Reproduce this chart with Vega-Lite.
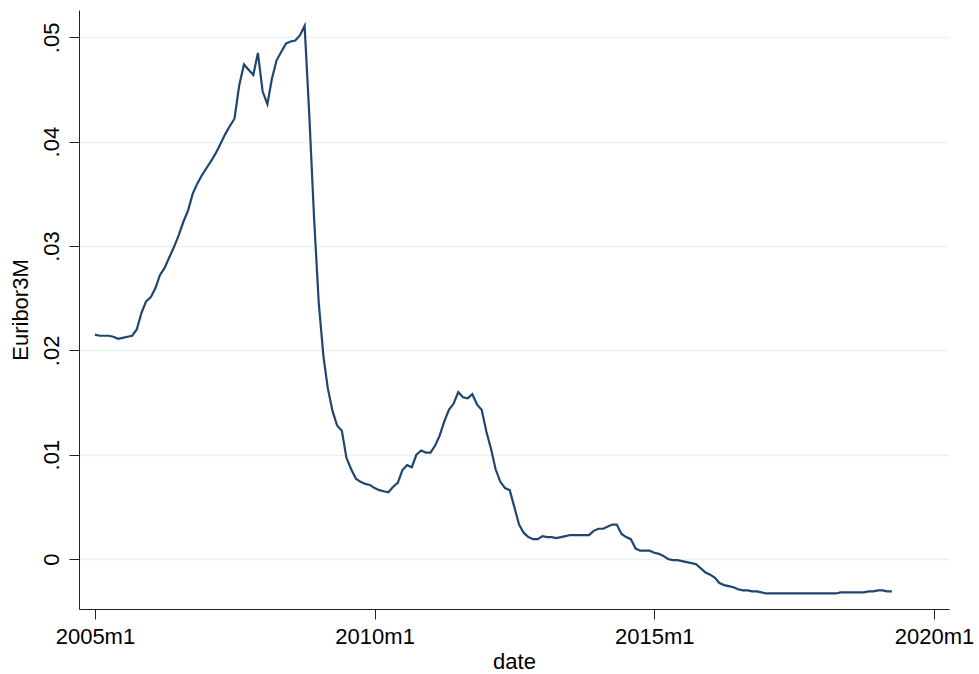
{
  "$schema": "https://vega.github.io/schema/vega-lite/v6.json",
  "width": 870,
  "height": 599,
  "autosize": {"type": "none"},
  "padding": {"left": 79, "top": 10, "right": 30, "bottom": 65},
  "background": "white",
  "config": {
    "view": {"stroke": null},
    "font": "Liberation Sans",
    "axis": {
      "domainColor": "#222222",
      "domainWidth": 1,
      "tickColor": "#222222",
      "tickWidth": 1,
      "tickSize": 10,
      "labelFont": "Liberation Sans",
      "labelFontSize": 22,
      "labelColor": "#000000",
      "titleFont": "Liberation Sans",
      "titleFontSize": 22,
      "titleFontWeight": "normal",
      "titleColor": "#000000",
      "labelOverlap": false,
      "labelFlush": false,
      "labelBound": false
    }
  },
  "data": {
    "values": [
      {"date": "2005-01-01", "euribor3m": 0.0215},
      {"date": "2005-02-01", "euribor3m": 0.0214},
      {"date": "2005-03-01", "euribor3m": 0.0214},
      {"date": "2005-04-01", "euribor3m": 0.0214},
      {"date": "2005-05-01", "euribor3m": 0.0213},
      {"date": "2005-06-01", "euribor3m": 0.0211},
      {"date": "2005-07-01", "euribor3m": 0.0212},
      {"date": "2005-08-01", "euribor3m": 0.0213},
      {"date": "2005-09-01", "euribor3m": 0.0214},
      {"date": "2005-10-01", "euribor3m": 0.0220},
      {"date": "2005-11-01", "euribor3m": 0.0236},
      {"date": "2005-12-01", "euribor3m": 0.0247},
      {"date": "2006-01-01", "euribor3m": 0.0251},
      {"date": "2006-02-01", "euribor3m": 0.0260},
      {"date": "2006-03-01", "euribor3m": 0.0272},
      {"date": "2006-04-01", "euribor3m": 0.0279},
      {"date": "2006-05-01", "euribor3m": 0.0289},
      {"date": "2006-06-01", "euribor3m": 0.0299},
      {"date": "2006-07-01", "euribor3m": 0.0310},
      {"date": "2006-08-01", "euribor3m": 0.0323},
      {"date": "2006-09-01", "euribor3m": 0.0334},
      {"date": "2006-10-01", "euribor3m": 0.0350},
      {"date": "2006-11-01", "euribor3m": 0.0360},
      {"date": "2006-12-01", "euribor3m": 0.0368},
      {"date": "2007-01-01", "euribor3m": 0.0375},
      {"date": "2007-02-01", "euribor3m": 0.0382},
      {"date": "2007-03-01", "euribor3m": 0.0389},
      {"date": "2007-04-01", "euribor3m": 0.0398},
      {"date": "2007-05-01", "euribor3m": 0.0407},
      {"date": "2007-06-01", "euribor3m": 0.0415},
      {"date": "2007-07-01", "euribor3m": 0.0422},
      {"date": "2007-08-01", "euribor3m": 0.0454},
      {"date": "2007-09-01", "euribor3m": 0.0474},
      {"date": "2007-10-01", "euribor3m": 0.0469},
      {"date": "2007-11-01", "euribor3m": 0.0464},
      {"date": "2007-12-01", "euribor3m": 0.0485},
      {"date": "2008-01-01", "euribor3m": 0.0448},
      {"date": "2008-02-01", "euribor3m": 0.0436},
      {"date": "2008-03-01", "euribor3m": 0.0460},
      {"date": "2008-04-01", "euribor3m": 0.0478},
      {"date": "2008-05-01", "euribor3m": 0.0486},
      {"date": "2008-06-01", "euribor3m": 0.0494},
      {"date": "2008-07-01", "euribor3m": 0.0496},
      {"date": "2008-08-01", "euribor3m": 0.0497},
      {"date": "2008-09-01", "euribor3m": 0.0502},
      {"date": "2008-10-01", "euribor3m": 0.0511},
      {"date": "2008-11-01", "euribor3m": 0.0424},
      {"date": "2008-12-01", "euribor3m": 0.0329},
      {"date": "2009-01-01", "euribor3m": 0.0246},
      {"date": "2009-02-01", "euribor3m": 0.0194},
      {"date": "2009-03-01", "euribor3m": 0.0164},
      {"date": "2009-04-01", "euribor3m": 0.0142},
      {"date": "2009-05-01", "euribor3m": 0.0128},
      {"date": "2009-06-01", "euribor3m": 0.0123},
      {"date": "2009-07-01", "euribor3m": 0.0097},
      {"date": "2009-08-01", "euribor3m": 0.0086},
      {"date": "2009-09-01", "euribor3m": 0.0077},
      {"date": "2009-10-01", "euribor3m": 0.0074},
      {"date": "2009-11-01", "euribor3m": 0.0072},
      {"date": "2009-12-01", "euribor3m": 0.0071},
      {"date": "2010-01-01", "euribor3m": 0.0068},
      {"date": "2010-02-01", "euribor3m": 0.0066},
      {"date": "2010-03-01", "euribor3m": 0.0065},
      {"date": "2010-04-01", "euribor3m": 0.0064},
      {"date": "2010-05-01", "euribor3m": 0.0069},
      {"date": "2010-06-01", "euribor3m": 0.0073},
      {"date": "2010-07-01", "euribor3m": 0.0085},
      {"date": "2010-08-01", "euribor3m": 0.0090},
      {"date": "2010-09-01", "euribor3m": 0.0088},
      {"date": "2010-10-01", "euribor3m": 0.0100},
      {"date": "2010-11-01", "euribor3m": 0.0104},
      {"date": "2010-12-01", "euribor3m": 0.0102},
      {"date": "2011-01-01", "euribor3m": 0.0102},
      {"date": "2011-02-01", "euribor3m": 0.0109},
      {"date": "2011-03-01", "euribor3m": 0.0118},
      {"date": "2011-04-01", "euribor3m": 0.0132},
      {"date": "2011-05-01", "euribor3m": 0.0143},
      {"date": "2011-06-01", "euribor3m": 0.0149},
      {"date": "2011-07-01", "euribor3m": 0.0160},
      {"date": "2011-08-01", "euribor3m": 0.0155},
      {"date": "2011-09-01", "euribor3m": 0.0154},
      {"date": "2011-10-01", "euribor3m": 0.0158},
      {"date": "2011-11-01", "euribor3m": 0.0148},
      {"date": "2011-12-01", "euribor3m": 0.0143},
      {"date": "2012-01-01", "euribor3m": 0.0122},
      {"date": "2012-02-01", "euribor3m": 0.0105},
      {"date": "2012-03-01", "euribor3m": 0.0086},
      {"date": "2012-04-01", "euribor3m": 0.0074},
      {"date": "2012-05-01", "euribor3m": 0.0068},
      {"date": "2012-06-01", "euribor3m": 0.0066},
      {"date": "2012-07-01", "euribor3m": 0.0050},
      {"date": "2012-08-01", "euribor3m": 0.0033},
      {"date": "2012-09-01", "euribor3m": 0.0025},
      {"date": "2012-10-01", "euribor3m": 0.0021},
      {"date": "2012-11-01", "euribor3m": 0.0019},
      {"date": "2012-12-01", "euribor3m": 0.0019},
      {"date": "2013-01-01", "euribor3m": 0.0022},
      {"date": "2013-02-01", "euribor3m": 0.0021},
      {"date": "2013-03-01", "euribor3m": 0.0021},
      {"date": "2013-04-01", "euribor3m": 0.0020},
      {"date": "2013-05-01", "euribor3m": 0.0021},
      {"date": "2013-06-01", "euribor3m": 0.0022},
      {"date": "2013-07-01", "euribor3m": 0.0023},
      {"date": "2013-08-01", "euribor3m": 0.0023},
      {"date": "2013-09-01", "euribor3m": 0.0023},
      {"date": "2013-10-01", "euribor3m": 0.0023},
      {"date": "2013-11-01", "euribor3m": 0.0023},
      {"date": "2013-12-01", "euribor3m": 0.0027},
      {"date": "2014-01-01", "euribor3m": 0.0029},
      {"date": "2014-02-01", "euribor3m": 0.0029},
      {"date": "2014-03-01", "euribor3m": 0.0031},
      {"date": "2014-04-01", "euribor3m": 0.0033},
      {"date": "2014-05-01", "euribor3m": 0.0033},
      {"date": "2014-06-01", "euribor3m": 0.0024},
      {"date": "2014-07-01", "euribor3m": 0.0021},
      {"date": "2014-08-01", "euribor3m": 0.0019},
      {"date": "2014-09-01", "euribor3m": 0.0010},
      {"date": "2014-10-01", "euribor3m": 0.0008},
      {"date": "2014-11-01", "euribor3m": 0.0008},
      {"date": "2014-12-01", "euribor3m": 0.0008},
      {"date": "2015-01-01", "euribor3m": 0.0006},
      {"date": "2015-02-01", "euribor3m": 0.0005},
      {"date": "2015-03-01", "euribor3m": 0.0003},
      {"date": "2015-04-01", "euribor3m": 0.0000},
      {"date": "2015-05-01", "euribor3m": -0.0001},
      {"date": "2015-06-01", "euribor3m": -0.0001},
      {"date": "2015-07-01", "euribor3m": -0.0002},
      {"date": "2015-08-01", "euribor3m": -0.0003},
      {"date": "2015-09-01", "euribor3m": -0.0004},
      {"date": "2015-10-01", "euribor3m": -0.0005},
      {"date": "2015-11-01", "euribor3m": -0.0009},
      {"date": "2015-12-01", "euribor3m": -0.0013},
      {"date": "2016-01-01", "euribor3m": -0.0015},
      {"date": "2016-02-01", "euribor3m": -0.0018},
      {"date": "2016-03-01", "euribor3m": -0.0023},
      {"date": "2016-04-01", "euribor3m": -0.0025},
      {"date": "2016-05-01", "euribor3m": -0.0026},
      {"date": "2016-06-01", "euribor3m": -0.0027},
      {"date": "2016-07-01", "euribor3m": -0.0029},
      {"date": "2016-08-01", "euribor3m": -0.0030},
      {"date": "2016-09-01", "euribor3m": -0.0030},
      {"date": "2016-10-01", "euribor3m": -0.0031},
      {"date": "2016-11-01", "euribor3m": -0.0031},
      {"date": "2016-12-01", "euribor3m": -0.0032},
      {"date": "2017-01-01", "euribor3m": -0.0033},
      {"date": "2017-02-01", "euribor3m": -0.0033},
      {"date": "2017-03-01", "euribor3m": -0.0033},
      {"date": "2017-04-01", "euribor3m": -0.0033},
      {"date": "2017-05-01", "euribor3m": -0.0033},
      {"date": "2017-06-01", "euribor3m": -0.0033},
      {"date": "2017-07-01", "euribor3m": -0.0033},
      {"date": "2017-08-01", "euribor3m": -0.0033},
      {"date": "2017-09-01", "euribor3m": -0.0033},
      {"date": "2017-10-01", "euribor3m": -0.0033},
      {"date": "2017-11-01", "euribor3m": -0.0033},
      {"date": "2017-12-01", "euribor3m": -0.0033},
      {"date": "2018-01-01", "euribor3m": -0.0033},
      {"date": "2018-02-01", "euribor3m": -0.0033},
      {"date": "2018-03-01", "euribor3m": -0.0033},
      {"date": "2018-04-01", "euribor3m": -0.0033},
      {"date": "2018-05-01", "euribor3m": -0.0032},
      {"date": "2018-06-01", "euribor3m": -0.0032},
      {"date": "2018-07-01", "euribor3m": -0.0032},
      {"date": "2018-08-01", "euribor3m": -0.0032},
      {"date": "2018-09-01", "euribor3m": -0.0032},
      {"date": "2018-10-01", "euribor3m": -0.0032},
      {"date": "2018-11-01", "euribor3m": -0.0031},
      {"date": "2018-12-01", "euribor3m": -0.0031},
      {"date": "2019-01-01", "euribor3m": -0.0030},
      {"date": "2019-02-01", "euribor3m": -0.0030},
      {"date": "2019-03-01", "euribor3m": -0.0031},
      {"date": "2019-04-01", "euribor3m": -0.0031}
    ]
  },
  "mark": {"type": "line", "color": "#1f4670", "strokeWidth": 2.2, "clip": true},
  "encoding": {
    "x": {
      "field": "date",
      "type": "temporal",
      "title": "date",
      "scale": {
        "type": "utc",
        "domain": [
          {"year": 2004, "month": 9, "date": 19, "utc": true},
          {"year": 2020, "month": 4, "date": 8, "utc": true}
        ]
      },
      "axis": {
        "values": [
          {"year": 2005, "month": 1, "date": 1, "utc": true},
          {"year": 2010, "month": 1, "date": 1, "utc": true},
          {"year": 2015, "month": 1, "date": 1, "utc": true},
          {"year": 2020, "month": 1, "date": 1, "utc": true}
        ],
        "labelExpr": "utcFormat(datum.value, '%Y') + 'm1'",
        "grid": false,
        "labelPadding": 7,
        "titlePadding": 4
      }
    },
    "y": {
      "field": "euribor3m",
      "type": "quantitative",
      "title": "Euribor3M",
      "scale": {"domain": [-0.00479, 0.05262], "nice": false, "zero": false},
      "axis": {
        "values": [0, 0.01, 0.02, 0.03, 0.04, 0.05],
        "labelExpr": "datum.value == 0 ? '0' : replace(format(datum.value, '.2f'), '0.', '.')",
        "labelAngle": -90,
        "grid": true,
        "gridColor": "#eaf2f3",
        "gridWidth": 1.5,
        "labelPadding": 6,
        "titlePadding": 8
      }
    }
  }
}
